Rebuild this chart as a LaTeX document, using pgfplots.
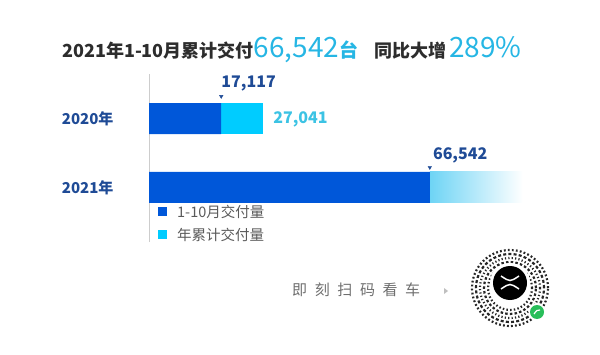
\documentclass[border=0pt]{standalone}
\usepackage{pgfplots}
\pgfplotsset{compat=1.18}
\usepackage{fontspec}
\setmainfont{Noto Sans CJK SC}
\definecolor{barblue}{RGB}{0,87,217}
\definecolor{barcyan}{RGB}{0,204,255}
\definecolor{gradcyan}{RGB}{110,212,245}
\definecolor{titlecyan}{RGB}{38,182,228}
\definecolor{labelcyan}{RGB}{60,195,228}
\definecolor{navy}{RGB}{31,75,150}
\definecolor{titledark}{RGB}{45,45,45}
\definecolor{legendgray}{RGB}{90,90,90}
\definecolor{axisgray}{RGB}{205,205,205}
\definecolor{scangray}{RGB}{110,110,110}
\definecolor{wxgreen}{RGB}{40,190,90}
\begin{document}
\begin{tikzpicture}[x=1pt,y=1pt]
\path[use as bounding box] (0,0) rectangle (600,354);
% title
\node[anchor=base west, inner sep=0] at (62,354-58) {%
  \fontsize{18}{18}\selectfont\bfseries\color{titledark}2021年1-10月累计交付%
  {\fontsize{28}{28}\selectfont\mdseries\color{titlecyan}66,542}%
  {\fontsize{19}{19}\selectfont\color{titlecyan}台}\hspace{16pt}%
  同比大增\hspace{3pt}%
  {\fontsize{28}{28}\selectfont\mdseries\color{titlecyan}289\%}};
\begin{axis}[
  scale only axis, width=422pt, height=168pt,
  at={(149pt,112pt)}, anchor=south west,
  xmin=0, xmax=100000, ymin=-0.79, ymax=1.645,
  axis x line=none, axis y line=left,
  y axis line style={-, draw=axisgray, line width=0.8pt},
  ytick={0,1}, yticklabels={2021年,2020年},
  major tick length=0pt,
  yticklabel style={font=\fontsize{15}{15}\selectfont\bfseries, text=navy, xshift=-32pt},
  clip=false,
]
\addplot[xbar, bar width=31pt, bar shift=0pt, fill=barcyan, draw=none] coordinates {(27041,1)};
\addplot[draw=none, left color=gradcyan, right color=white] coordinates {(66542,-0.2246) (88600,-0.2246) (88600,0.2246) (66542,0.2246)} -- cycle;
\addplot[xbar, bar width=31pt, bar shift=0pt, fill=barblue, draw=none] coordinates {(17117,1) (66542,0)};
\addplot[only marks, mark=triangle*, mark size=2pt, mark options={rotate=180, fill=navy, draw=navy}] coordinates {(17117,1.32) (66542,0.29)};
\node[anchor=west, inner sep=0, font=\fontsize{16}{16}\selectfont\bfseries, text=navy] at (axis cs:17117,1.51) {17,117};
\node[anchor=west, inner sep=0, xshift=10pt, font=\fontsize{16}{16}\selectfont\bfseries, text=labelcyan] at (axis cs:27041,0.98) {27,041};
\node[anchor=west, inner sep=0, xshift=3pt, font=\fontsize{16}{16}\selectfont\bfseries, text=navy] at (axis cs:66542,0.47) {66,542};
\end{axis}
% legend
\fill[barblue] (158,354-216) rectangle (167,354-207);
\node[anchor=west, inner sep=0, font=\fontsize{14.5}{14.5}\selectfont, text=legendgray] at (177,354-212) {1-10月交付量};
\fill[barcyan] (158,354-239) rectangle (167,354-230);
\node[anchor=west, inner sep=0, font=\fontsize{14.5}{14.5}\selectfont, text=legendgray] at (177,354-235) {年累计交付量};
% scan text
\node[anchor=west, inner sep=0, font=\fontsize{15}{15}\selectfont, text=scangray] at (292,354-290)
  {即\hspace{7.6pt}刻\hspace{7.6pt}扫\hspace{7.6pt}码\hspace{7.6pt}看\hspace{7.6pt}车};
\fill[gray!50] (444,354-288) -- (448,354-291) -- (444,354-294) -- cycle;
% QR-like badge
\begin{scope}[shift={(510,354-288)}]
  \foreach \r/\d in {22/1.5, 26/2.5, 30/1.2, 34/3, 38/1.8}{
    \draw[black!85, line width=2.2pt, dash pattern=on \d pt off 2.2pt] (0,0) circle (\r);
  }
  \fill[white] (0,5) circle (20);
  \fill[black] (0,5) circle (17);
  \draw[white, line width=1.5pt] (-9,12) .. controls (0,6) .. (9,12);
  \draw[white, line width=1.5pt] (-9,-1) .. controls (0,5) .. (9,-1);
  \fill[white] (27,-24) circle (8.5);
  \fill[wxgreen] (27,-24) circle (7);
  \draw[white, line width=1.2pt] (24,-26) .. controls (27,-22) .. (30,-22);
\end{scope}
\end{tikzpicture}
\end{document}
